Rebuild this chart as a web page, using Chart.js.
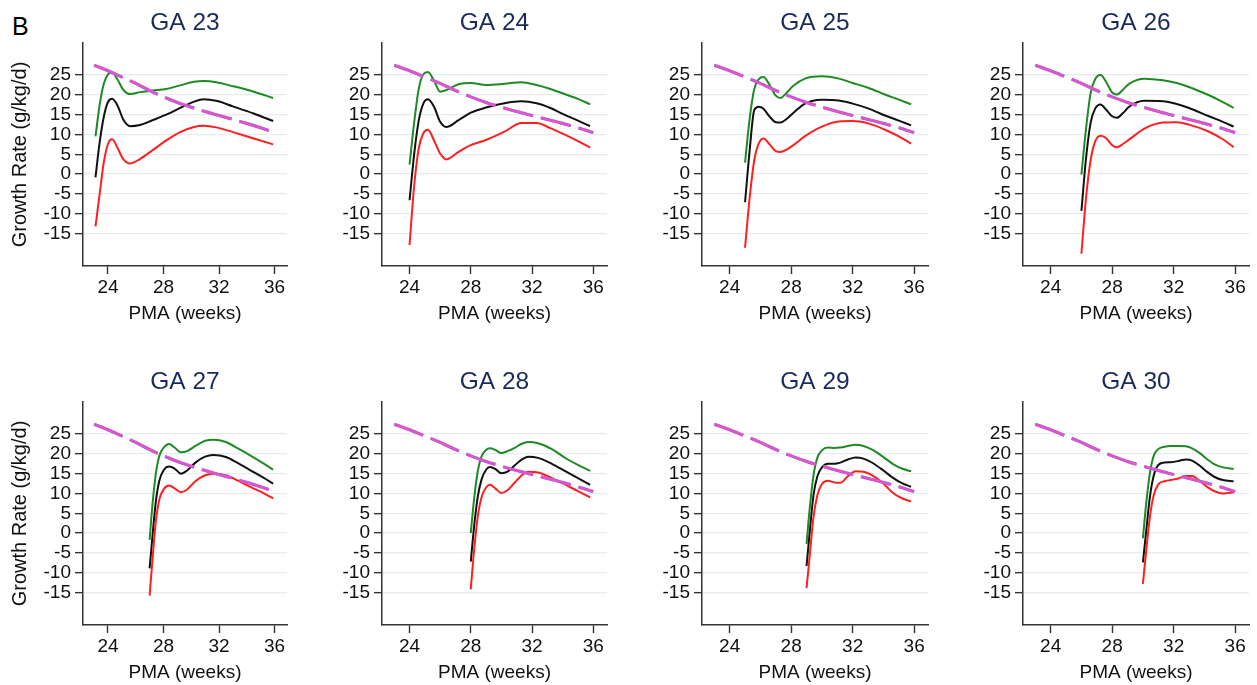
<!DOCTYPE html>
<html>
<head>
<meta charset="utf-8">
<script src="https://cdn.jsdelivr.net/npm/chart.js@4.4.0/dist/chart.umd.min.js"></script>
<style>
  body { margin: 0; background: #fff; width: 1257px; height: 685px; position: relative; overflow: hidden;
         font-family: "Liberation Sans", Arial, Helvetica, sans-serif; }
  .panel { position: absolute; }
  #tag { position: absolute; left: 12px; top: 14px; font-size: 25px; line-height: 25px; color: #000; }
</style>
</head>
<body>
<div id="tag">B</div>
<script>
const FONT = '"Liberation Sans", Arial, Helvetica, sans-serif';

// axes
const xTicks = [24, 28, 32, 36];
const yTicks = [-15, -10, -5, 0, 5, 10, 15, 20, 25];
const gaList = [23, 24, 25, 26, 27, 28, 29, 30];

// reference growth rate (dashed), identical in every panel
const refPMA  = [23, 24, 25, 26, 27, 28, 29, 30, 31, 32, 33, 34, 35, 36];
const refRate = [27.5, 26.1, 24.5, 22.9, 21.1, 19.5, 18.1, 16.9, 15.8, 14.8, 13.8, 12.8, 11.7, 10.5];

// GA 23
const pma23  = [23.1, 23.4, 23.7, 24.0, 24.3, 24.7, 25.1, 25.6, 26.3, 27.2, 28.2, 29.2, 30.2, 30.9, 31.8, 33.0, 34.5, 35.9];
const high23 = [9.5, 17.5, 22.8, 25.2, 25.7, 23.8, 21.3, 20.2, 20.7, 21.1, 21.5, 22.4, 23.3, 23.5, 23.2, 22.2, 20.8, 19.2];
const mid23  = [-0.8, 8.0, 14.5, 18.2, 19.0, 17.2, 13.8, 12.1, 12.4, 13.6, 15.0, 16.7, 18.3, 18.9, 18.5, 17.1, 15.3, 13.4];
const low23  = [-13.2, -5.0, 3.0, 7.6, 8.8, 6.5, 3.8, 2.7, 3.8, 6.0, 8.5, 10.6, 11.9, 12.2, 11.8, 10.6, 9.0, 7.5];

// GA 24
const pma24  = [24.0, 24.3, 24.6, 24.9, 25.2, 25.6, 26.0, 26.4, 27.2, 28.0, 29.0, 30.2, 31.3, 32.3, 33.2, 34.0, 35.0, 35.8];
const high24 = [2.4, 13.0, 21.5, 25.2, 25.8, 23.6, 20.8, 21.2, 22.7, 23.0, 22.5, 22.8, 23.2, 22.5, 21.5, 20.4, 19.0, 17.6];
const mid24  = [-6.6, 5.0, 13.5, 17.8, 18.9, 17.0, 13.2, 11.9, 13.6, 15.5, 16.8, 17.9, 18.4, 17.9, 16.7, 15.2, 13.5, 12.1];
const low24  = [-17.9, -3.0, 6.5, 10.3, 11.2, 8.5, 5.2, 3.7, 5.6, 7.3, 8.6, 10.7, 12.9, 12.9, 11.6, 10.2, 8.3, 6.7];

// GA 25
const pma25  = [25.0, 25.3, 25.6, 25.9, 26.2, 26.6, 27.0, 27.3, 27.7, 28.1, 28.9, 30.0, 31.1, 32.0, 33.0, 34.1, 35.0, 35.8];
const high25 = [2.9, 14.0, 21.5, 24.0, 24.5, 22.5, 19.8, 19.2, 20.5, 22.2, 24.1, 24.7, 24.1, 23.0, 21.8, 20.1, 18.8, 17.6];
const mid25  = [-7.1, 6.0, 16.2, 17.0, 16.5, 14.5, 13.1, 13.0, 13.9, 15.3, 17.8, 18.8, 18.6, 17.8, 16.6, 14.8, 13.5, 12.3];
const low25  = [-18.6, -6.0, 3.5, 7.8, 9.0, 7.5, 5.8, 5.6, 6.2, 7.2, 9.6, 12.0, 13.3, 13.4, 12.8, 11.2, 9.5, 7.7];

// GA 26
const pma26  = [26.0, 26.3, 26.6, 26.9, 27.25, 27.6, 28.0, 28.3, 28.7, 29.1, 30.1, 31.3, 32.2, 33.0, 34.3, 35.2, 35.9];
const high26 = [-0.1, 11.5, 20.5, 24.0, 25.0, 23.3, 20.6, 20.1, 21.3, 22.8, 24.1, 23.7, 23.0, 22.0, 19.9, 18.2, 16.7];
const mid26  = [-9.3, 4.0, 13.0, 16.6, 17.6, 16.3, 14.6, 14.2, 15.4, 17.0, 18.5, 18.4, 17.7, 16.7, 14.6, 13.2, 12.0];
const low26  = [-20.1, -6.0, 3.5, 8.3, 9.7, 9.1, 7.3, 6.8, 7.6, 8.7, 11.5, 13.0, 13.1, 12.5, 10.7, 8.8, 6.8];

// GA 27
const pma27  = [27.0, 27.2, 27.45, 27.7, 28.0, 28.4, 28.8, 29.25, 29.7, 30.3, 31.0, 31.6, 32.5, 33.4, 34.3, 35.2, 35.9];
const high27 = [-1.7, 7.0, 15.0, 19.5, 21.5, 22.5, 21.6, 20.4, 20.7, 22.0, 23.3, 23.6, 23.0, 21.3, 19.5, 17.6, 16.0];
const mid27  = [-8.9, -1.0, 8.0, 13.2, 15.8, 16.8, 16.3, 15.0, 15.8, 17.8, 19.3, 19.7, 19.2, 17.6, 15.8, 14.0, 12.5];
const low27  = [-15.8, -7.0, 3.0, 8.5, 11.0, 12.0, 11.3, 10.3, 11.0, 13.1, 14.6, 15.0, 14.6, 13.2, 11.6, 10.1, 8.8];

// GA 28
const pma28  = [28.0, 28.2, 28.45, 28.7, 29.0, 29.25, 29.6, 30.0, 30.4, 30.9, 31.3, 31.75, 32.4, 33.3, 34.2, 35.0, 35.8];
const high28 = [0.0, 8.0, 15.5, 19.3, 21.0, 21.4, 21.0, 20.2, 20.7, 21.6, 22.5, 23.0, 22.7, 21.2, 18.9, 17.2, 15.7];
const mid28  = [-7.2, 1.0, 9.0, 13.5, 16.0, 16.7, 16.2, 15.1, 15.5, 17.2, 18.5, 19.3, 19.0, 17.5, 15.6, 13.9, 12.2];
const low28  = [-14.2, -5.0, 4.0, 9.0, 11.5, 12.2, 11.3, 10.1, 10.8, 12.9, 14.5, 15.5, 15.3, 13.9, 12.2, 10.6, 9.0];

// GA 29
const pma29  = [29.0, 29.2, 29.45, 29.7, 30.0, 30.4, 30.8, 31.2, 31.7, 32.2, 32.7, 33.3, 34.0, 34.6, 35.2, 35.8];
const high29 = [-2.7, 6.0, 14.5, 19.0, 20.9, 21.6, 21.5, 21.6, 22.0, 22.3, 22.0, 21.0, 19.2, 17.5, 16.3, 15.6];
const mid29  = [-8.3, 0.0, 9.5, 14.3, 16.6, 17.5, 17.5, 17.8, 18.6, 19.1, 18.8, 17.7, 15.8, 14.0, 12.6, 11.7];
const low29  = [-13.9, -6.0, 4.0, 9.5, 12.4, 13.2, 12.8, 12.7, 14.4, 15.6, 15.5, 14.5, 12.5, 10.2, 8.8, 8.0];

// GA 30
const pma30  = [30.0, 30.2, 30.45, 30.7, 31.0, 31.4, 31.8, 32.3, 32.8, 33.2, 33.7, 34.2, 34.7, 35.2, 35.9];
const high30 = [-1.3, 7.0, 15.0, 19.5, 21.2, 21.8, 22.0, 22.0, 21.9, 21.4, 20.2, 18.6, 17.3, 16.6, 16.2];
const mid30  = [-7.4, 0.0, 9.0, 14.5, 17.2, 17.8, 17.9, 18.2, 18.6, 18.3, 17.0, 15.4, 14.1, 13.4, 13.1];
const low30  = [-12.8, -5.0, 4.0, 9.5, 12.3, 13.1, 13.4, 13.8, 14.4, 14.4, 13.2, 11.6, 10.5, 10.0, 10.3];

const curves = [
  [pma23, high23, mid23, low23], [pma24, high24, mid24, low24],
  [pma25, high25, mid25, low25], [pma26, high26, mid26, low26],
  [pma27, high27, mid27, low27], [pma28, high28, mid28, low28],
  [pma29, high29, mid29, low29], [pma30, high30, mid30, low30]
];

// panel grid geometry (px)
const plotLeft = [83, 382, 702, 1023];
const plotWidth = [204, 225, 226, 226];
const rowTop = [0, 359];
const TITLE_H = 43, PLOT_H = 223, XAXIS_H = 70, RIGHT_PAD = 8;

const toPoints = (xs, ys) => xs.map((x, i) => ({ x, y: ys[i] }));

function line(data, color, width, dash) {
  return {
    data, borderColor: color, borderWidth: width, borderDash: dash || [],
    pointRadius: 0, fill: false, cubicInterpolationMode: 'monotone'
  };
}

gaList.forEach((ga, idx) => {
  const col = idx % 4, row = Math.floor(idx / 4);
  const yW = col === 0 ? 83 : 60;
  const w = yW + plotWidth[col] + RIGHT_PAD;
  const h = TITLE_H + PLOT_H + XAXIS_H;

  const canvas = document.createElement('canvas');
  canvas.className = 'panel';
  canvas.width = w; canvas.height = h;
  canvas.style.left = (plotLeft[col] - yW) + 'px';
  canvas.style.top = rowTop[row] + 'px';
  canvas.style.width = w + 'px'; canvas.style.height = h + 'px';
  document.body.appendChild(canvas);

  const [pma, high, mid, low] = curves[idx];
  const ref = toPoints(refPMA, refRate);

  new Chart(canvas, {
    type: 'line',
    data: {
      datasets: [
        // pink dash on top of a slightly wider violet dash of the same curve
        line(ref, '#e452c8', 2.6, [31, 8]),
        line(ref, '#7d70ee', 3.2, [31, 8]),
        line(toPoints(pma, low), '#ff1f1f', 2),
        line(toPoints(pma, mid), '#111111', 2),
        line(toPoints(pma, high), '#1f8a24', 2)
      ]
    },
    options: {
      responsive: false,
      animation: false,
      events: [],
      layout: { padding: { left: 0, right: RIGHT_PAD, top: 0, bottom: 0 } },
      plugins: {
        legend: { display: false },
        tooltip: { enabled: false },
        title: {
          display: true, text: 'GA ' + ga, color: '#1b2a5c', fullSize: false,
          font: { family: FONT, size: 24.5, weight: 'normal' },
          padding: { top: 8.5, bottom: 5.1 }
        }
      },
      scales: {
        x: {
          type: 'linear', min: 22.2, max: 36.9,
          afterBuildTicks: s => { s.ticks = xTicks.map(v => ({ value: v })); },
          afterFit: s => { s.height = XAXIS_H; s.paddingLeft = 0; s.paddingRight = 0; },
          ticks: { color: '#111', font: { family: FONT, size: 19 }, padding: 2, maxRotation: 0, autoSkip: false },
          grid: { drawOnChartArea: false, tickColor: '#333', tickLength: 8, tickWidth: 1.4 },
          border: { display: true, color: '#333', width: 1.5 },
          title: { display: true, text: 'PMA (weeks)', color: '#111',
                   font: { family: FONT, size: 19 }, padding: { top: 0, bottom: 11 } }
        },
        y: {
          type: 'linear', min: -23.2, max: 33.1,
          afterBuildTicks: s => { s.ticks = yTicks.map(v => ({ value: v })); },
          afterFit: s => { s.width = yW; s.paddingTop = 0; s.paddingBottom = 0; },
          ticks: { color: '#111', font: { family: FONT, size: 19 }, padding: 4, autoSkip: false },
          grid: { color: '#e4ecef', lineWidth: 1.3, tickColor: '#333', tickLength: 8, tickWidth: 1.4 },
          border: { display: true, color: '#333', width: 1.5 },
          title: { display: col === 0, text: 'Growth Rate (g/kg/d)', color: '#111',
                   font: { family: FONT, size: 20 }, padding: { top: 8.5, bottom: 0 } }
        }
      }
    }
  });
});
</script>
</body>
</html>
